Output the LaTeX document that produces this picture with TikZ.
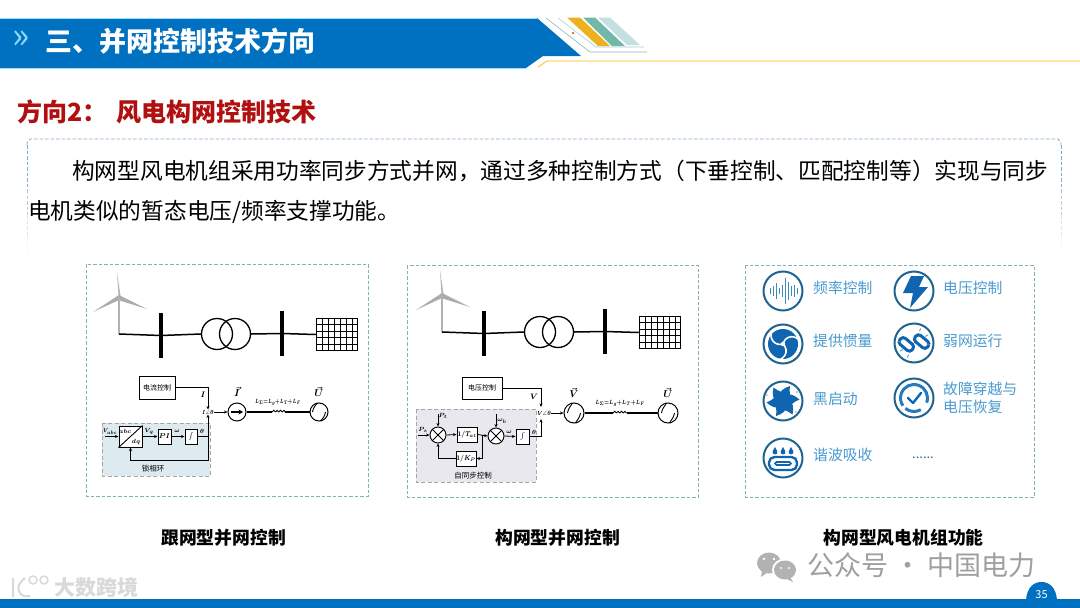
\documentclass[tikz,border=0pt]{standalone}
\usepackage{amsmath, amssymb}
\usepackage{fontspec}
\setmainfont{Noto Sans CJK SC}
\definecolor{HeadBlue}{HTML}{0070C0}
\definecolor{TitleRed}{HTML}{B01010}
\definecolor{CardTeal}{HTML}{7FB3B5}
\definecolor{BoxBlue}{HTML}{7FAFD0}
\definecolor{RingBlue}{HTML}{1F6491}
\definecolor{IconBlue}{HTML}{0F65B0}
\definecolor{LabelBlue}{HTML}{4A9AD0}
\definecolor{PllFill}{HTML}{DDEBF0}
\definecolor{SyncFill}{HTML}{E9E8EE}
\definecolor{StripeGold}{HTML}{EDB120}
\definecolor{StripeTeal}{HTML}{72B8A8}
\definecolor{StripePale}{HTML}{C6DFE0}
\usetikzlibrary{arrows.meta, positioning, calc}
\newcommand{\fsz}[1]{\fontsize{#1}{#1}\selectfont}
\tikzset{
  cardbox/.style={draw=CardTeal, line width=0.9pt, dash pattern=on 3.5pt off 2pt},
  ctrlbox/.style={draw, line width=1pt, fill=white, inner sep=0pt, font=\fsz{7}\boldmath},
  ringicon/.style={circle, draw=RingBlue, line width=2pt, minimum size=39pt, inner sep=0pt},
  iconlabel/.style={anchor=west, text=LabelBlue, font=\fsz{14.8}, align=left, inner sep=0pt},
  caption/.style={font=\fsz{17.8}\bfseries, inner sep=0pt},
  sumnode/.style={circle, draw, line width=0.9pt, fill=white, minimum size=16pt, inner sep=0pt},
  srcnode/.style={circle, draw, line width=1pt, fill=white, inner sep=0pt},
  tinylabel/.style={font=\fsz{6.5}\boldmath, inner sep=0pt},
  sig/.style={-{Stealth[length=3.5pt,width=3pt]}, line width=0.8pt},
  wire/.style={line width=1.1pt},
}
% one turbine, two bus bars, the transformer and the grid
\newcommand{\feederrow}{
  \fill[gray!60] (118.5,296) -- (117,272) -- (120.5,296) -- cycle;
  \fill[gray!65] (119,295) -- (93,312) -- (119,300) -- cycle;
  \fill[gray!65] (119,295) -- (147,309) -- (118,300) -- cycle;
  \draw[gray!60, line width=2pt] (119,298) -- (119,334);
  \coordinate (base) at (119,334);
  \node[fill, minimum width=3.6pt, minimum height=45pt, inner sep=0pt] (busa) at (161,335.5) {};
  \node[fill, minimum width=3.6pt, minimum height=45pt, inner sep=0pt] (busb) at (282,333.5) {};
  \node[circle, draw, line width=1.3pt, minimum size=31pt, inner sep=0pt] (xfa) at (217,334) {};
  \node[circle, draw, line width=1.3pt, minimum size=31pt, inner sep=0pt] (xfb) at (235,334) {};
  \node[draw, line width=1.5pt, minimum width=41pt, minimum height=32pt, inner sep=0pt] (grid) at (337,334.5) {};
  \foreach \gx in {322,328,334,340,346,352}
    \draw[line width=1pt] (\gx,318) -- (\gx,351);
  \foreach \gy in {324.5,331,337.5,344}
    \draw[line width=1pt] (316,\gy) -- (358,\gy);
  \draw[line width=1.5pt] (base) -- (busa.center) -- (xfa.west);
  \draw[line width=1.5pt] (xfb.east) -- (busb.center) -- (grid.west);
}
\newcommand{\acwave}[1]{
  \draw[line width=0.9pt] ($(#1)+(-6.5,0)$) .. controls ($(#1)+(-5,-7.5)$) and ($(#1)+(-1.5,-7.5)$) .. (#1)
    .. controls ($(#1)+(1.5,7.5)$) and ($(#1)+(5,7.5)$) .. ($(#1)+(6.5,0)$);
}
\newcommand{\coil}[1]{
  \foreach \cx in {0,3.4,6.8,10.2}
    \draw[line width=0.9pt] ($(#1)+(\cx,0)$) arc (180:360:1.7);
}

\begin{document}
\begin{tikzpicture}[x=1pt, y=-1pt, >=Stealth]
  \useasboundingbox (0,0) rectangle (1080,608);
  \fill[white] (0,0) rectangle (1080,608);

  % --- Header band ---
  \fill[HeadBlue] (0,18) -- (537,18) -- (581,56) -- (543,56) -- (526,68) -- (0,68) -- cycle;
  \draw[blue!30!cyan!40, line width=0.6pt] (0,18) -- (537,18);
  \draw[blue!30!cyan!40, line width=0.6pt] (0,68) -- (526,68);
  \fill[StripeGold] (567,17.5) -- (580,17.5) -- (610,46) -- (598,46) -- cycle;
  \fill[StripeTeal] (583,17.5) -- (595,17.5) -- (625,46) -- (612,46) -- cycle;
  \fill[StripePale] (598,17.5) -- (610,17.5) -- (640,45) -- (627,45) -- cycle;
  \draw[teal!50, line width=0.6pt] (546,18) -- (590,52) -- (647,52);
  \draw[teal!35, line width=0.6pt] (558,18) -- (596,47) -- (644,47);
  \draw[orange!55!yellow, line width=0.7pt] (538,67) -- (547,61) -- (1080,61);
  \fill[orange!70!black] (573,33) circle (1.2);
  \node[text=cyan!45, font=\fsz{36}, inner sep=0pt] (chevron) at (21,40) {»};
  \node[anchor=west, text=white, font=\fsz{27}\bfseries, inner sep=0pt] (headtitle) at (45,41) {三、并网控制技术方向};

  % --- Direction title and text box ---
  \node[anchor=west, text=TitleRed, font=\fsz{25}\bfseries, inner sep=0pt] (dirlabel) at (17,112) {方向2：};
  \node[anchor=west, text=TitleRed, font=\fsz{25}\bfseries, inner sep=0pt] (dirtitle) at (116,112) {风电构网控制技术};
  \draw[BoxBlue, line width=0.9pt, dash pattern=on 3.5pt off 2pt] (27,145) -- (27,143) -- (30,139) -- (1058,139) -- (1061,143) -- (1061,145);
  \foreach \fa/\fb/\fc in {145/190/100,190/215/60,215/235/30,235/250/12} {
    \draw[BoxBlue!\fc, line width=0.9pt, dash pattern=on 3.5pt off 2pt] (27,\fa) -- (27,\fb);
    \draw[BoxBlue!\fc, line width=0.9pt, dash pattern=on 3.5pt off 2pt] (1061,\fa) -- (1061,\fb);
  }
  \node[anchor=west, font=\fsz{22.7}, inner sep=0pt] (bodya) at (72,171) {构网型风电机组采用功率同步方式并网，通过多种控制方式（下垂控制、匹配控制等）实现与同步};
  \node[anchor=west, font=\fsz{22.7}, inner sep=0pt] (bodyb) at (28,212) {电机类似的暂态电压/频率支撑功能。};

  % --- Panel frames ---
  \draw[cardbox] (86,264) rectangle (368,496);
  \draw[cardbox] (407,265) rectangle (698,497);
  \draw[cardbox] (745,265) rectangle (1034,497);
  \node[caption] (capa) at (223.5,538) {跟网型并网控制};
  \node[caption] (capb) at (557.5,538) {构网型并网控制};
  \node[caption] (capc) at (903.5,538) {构网型风电机组功能};

  % --- Panel 1: grid following ---
  \begin{scope}[name prefix=fl-]
    \feederrow
  \end{scope}
  \fill[PllFill] (102,423) rectangle (210,476);
  \draw[gray!70, line width=0.9pt, dash pattern=on 4pt off 2.5pt] (102,423) rectangle (210,476);
  \node[ctrlbox, minimum width=36pt, minimum height=23pt] (curctrl) at (157,387.5) {电流控制};
  \node[tinylabel] (anglea) at (208,412) {\scalebox{0.85}[1]{$I\angle\theta$}};
  \node[srcnode, minimum size=18pt] (isrc) at (237,412) {};
  \node[srcnode, minimum size=18pt] (ugrida) at (319,412) {};
  \acwave{ugrida}
  \coordinate (coilain) at (272,412);
  \coordinate (coilaout) at (285,412);
  \coil{coilain}
  \draw[-{Stealth[length=4.5pt,width=5pt]}, line width=1.5pt] (231,412) -- (243,412);
  \draw[sig] (curctrl.east) -| (anglea.north);
  \draw[sig, line width=1pt] (anglea.east) -- (isrc.west);
  \draw[wire] (isrc.east) -- (coilain);
  \draw[wire] (coilaout) -- (ugrida.west);
  \node[tinylabel, font=\fsz{8}\boldmath] (ilabel) at (203,395) {$I$};
  \node[tinylabel, font=\fsz{10}\boldmath] (ivec) at (237,392) {$\vec{I}$};
  \node[tinylabel, font=\fsz{10}\boldmath] (uveca) at (319,392) {$\vec{U}$};
  \node[tinylabel] (lsuma) at (278,402) {\scalebox{0.72}[1]{$L_\Sigma{=}L_g{+}L_T{+}L_F$}};
  % phase locked loop
  \node[ctrlbox, minimum width=23pt, minimum height=21pt] (abcdq) at (130.5,436.5) {};
  \draw[line width=0.9pt] (abcdq.south west) -- (abcdq.north east);
  \node[tinylabel] (abclabel) at (125,431) {$abc$};
  \node[tinylabel] (dqlabel) at (136,442) {$dq$};
  \node[ctrlbox, minimum width=13pt, minimum height=15pt] (piblock) at (164.5,436.5) {$PI$};
  \node[ctrlbox, minimum width=12pt, minimum height=15pt] (intblock) at (191,436.5) {$\int$};
  \coordinate (vabcin) at (105,436.5);
  \coordinate (plltap) at (208,436.5);
  \coordinate (pllbot) at (208,460);
  \draw[sig] (vabcin) -- (abcdq.west);
  \draw[sig] (abcdq.east) -- (piblock.west);
  \draw[sig] (piblock.east) -- (intblock.west);
  \draw[line width=1pt] (intblock.east) -- (plltap);
  \draw[sig, line width=1pt] (plltap) -- (anglea.south);
  \draw[sig, line width=1pt] (plltap) -- (pllbot) -| (abcdq.south);
  \node[tinylabel] (vabclabel) at (110,431.5) {\scalebox{0.85}[1]{$V_{abc}$}};
  \node[tinylabel] (vqlabel) at (149,431) {$V_q$};
  \node[tinylabel] (omegaa) at (177,431) {$\omega$};
  \node[tinylabel] (thetaa) at (202,431) {$\theta$};
  \node[tinylabel, font=\fsz{7.5}] (pllname) at (153,469) {锁相环};

  % --- Panel 2: grid forming ---
  \begin{scope}[name prefix=fm-, xshift=323pt, yshift=2pt]
    \feederrow
  \end{scope}
  \fill[SyncFill] (416,409) rectangle (536,482);
  \draw[gray!70, line width=0.9pt, dash pattern=on 4pt off 2.5pt] (416,409) rectangle (536,482);
  \node[ctrlbox, minimum width=40pt, minimum height=22pt] (volctrl) at (482,388) {电压控制};
  \node[tinylabel] (angleb) at (544,413) {\scalebox{0.85}[1]{$V\angle\theta$}};
  \node[srcnode, minimum size=20pt] (vsrc) at (574,413) {};
  \node[srcnode, minimum size=20pt] (ugridb) at (668,413) {};
  \acwave{vsrc}
  \acwave{ugridb}
  \coordinate (coilbin) at (613,413);
  \coordinate (coilbout) at (627,413);
  \coil{coilbin}
  \draw[sig] (volctrl.east) -| (541,407);
  \draw[sig, line width=1pt] (angleb.east) -- (vsrc.west);
  \draw[wire] (vsrc.east) -- (coilbin);
  \draw[wire] (coilbout) -- (ugridb.west);
  \node[tinylabel, font=\fsz{8}\boldmath] (vlabel) at (534,397) {$V$};
  \node[tinylabel, font=\fsz{10}\boldmath] (vvec) at (574,393) {$\vec{V}$};
  \node[tinylabel, font=\fsz{10}\boldmath] (uvecb) at (668,393) {$\vec{U}$};
  \node[tinylabel] (lsumb) at (620,403) {\scalebox{0.78}[1]{$L_\Sigma{=}L_g{+}L_T{+}L_F$}};
  % self synchronising control
  \node[sumnode] (suma) at (438,435) {};
  \draw[line width=0.8pt] (suma.45) -- (suma.225) (suma.135) -- (suma.315);
  \node[sumnode] (sumb) at (496,436) {};
  \draw[line width=0.8pt] (sumb.45) -- (sumb.225) (sumb.135) -- (sumb.315);
  \node[ctrlbox, minimum width=20pt, minimum height=15pt] (tablock) at (467,434.5) {\scalebox{0.85}[1]{$1/T_{at}$}};
  \node[ctrlbox, minimum width=20pt, minimum height=15pt] (kpblock) at (466,458.5) {\scalebox{0.85}[1]{$1/K_P$}};
  \node[ctrlbox, minimum width=13pt, minimum height=15pt] (intsync) at (522.5,436.5) {$\int$};
  \coordinate (psin) at (418,435);
  \coordinate (ptin) at (438,414);
  \coordinate (wbin) at (496,414);
  \coordinate (synctap) at (482,434.5);
  \coordinate (syncout) at (541,436.5);
  \draw[sig] (psin) -- (suma.west);
  \draw[sig] (ptin) -- (suma.north);
  \draw[sig] (wbin) -- (sumb.north);
  \draw[sig] (suma.east) -- (tablock.west);
  \draw[sig] (tablock.east) -- (sumb.west);
  \draw[sig] (synctap) |- (kpblock.east);
  \draw[sig] (kpblock.west) -| (suma.south);
  \draw[sig] (sumb.east) -- (intsync.west);
  \draw[line width=1pt] (intsync.east) -- (syncout);
  \draw[sig, line width=1pt] (syncout) -- (541,419);
  \node[tinylabel] (pslabel) at (423,430) {$P_s$};
  \node[tinylabel] (ptlabel) at (443,416) {$P_t$};
  \node[tinylabel] (wblabel) at (502,421) {$\omega_b$};
  \node[tinylabel] (omegab) at (509,432) {$\omega$};
  \node[tinylabel] (thetab) at (534,432) {$\theta$};
  \node[tinylabel, font=\fsz{7.5}] (syncname) at (473,476) {自同步控制};

  % --- Panel 3: functions ---
  \node[ringicon] (freqicon) at (783,291) {};
  \node[ringicon] (volticon) at (914,291) {};
  \node[ringicon] (inerticon) at (783,344) {};
  \node[ringicon] (weakicon) at (914,343) {};
  \node[ringicon] (starticon) at (783,401) {};
  \node[ringicon] (faulticon) at (914,398) {};
  \node[ringicon] (harmicon) at (783,458) {};
  \node[iconlabel] (freqlabel) at (813,288) {频率控制};
  \node[iconlabel] (voltlabel) at (943,288) {电压控制};
  \node[iconlabel] (inertlabel) at (813,341) {提供惯量};
  \node[iconlabel] (weaklabel) at (943,341) {弱网运行};
  \node[iconlabel] (startlabel) at (813,399) {黑启动};
  \node[iconlabel] (faultlabel) at (943,389) {故障穿越与};
  \node[iconlabel] (faultlabelb) at (943,407) {电压恢复};
  \node[iconlabel] (harmlabel) at (813,455) {谐波吸收};
  \node[text=LabelBlue!70!black, font=\fsz{13}, inner sep=0pt] (moredots) at (923,458) {......};
  % waveform
  \foreach \wx/\wh in {-13/3,-10/5,-7/8,-4/3,-1/6,2/13,5/9,8/5,11/6,14/3}
    \draw[LabelBlue!70!RingBlue, line width=1pt] ($(freqicon)+(\wx,-\wh)$) -- ($(freqicon)+(\wx,\wh)$);
  % lightning
  \fill[IconBlue] (911,276) -- (924,276) -- (919,287) -- (928,287) -- (910,308) -- (913,293) -- (903,293) -- cycle;
  % swirl
  \fill[IconBlue] (inerticon) circle (15);
  \foreach \sa in {30,150,270}
    \draw[white, line width=1.6pt, rotate around={\sa:(inerticon)}] (783,344) .. controls (790,337) and (799,343) .. (799,350);
  \fill[white] (inerticon) circle (2.2);
  % chain
  \foreach \lx/\ly in {5/-6,-5/6}
    \draw[IconBlue, line width=3pt, rounded corners=3.5pt, rotate around={-40:($(weakicon)+(\lx,\ly)$)}]
      ($(weakicon)+(\lx,\ly)+(-8,-4)$) rectangle ($(weakicon)+(\lx,\ly)+(8,4)$);
  \foreach \da in {115,150,185,295,330,5}
    \draw[LabelBlue, line width=0.9pt] ($(weakicon)+(\da:13)$) -- ($(weakicon)+(\da:16)$);
  % pinwheel
  \foreach \pa in {0,60,...,300}
    \fill[IconBlue, rotate around={\pa:(starticon)}] (783,401) -- (779,397) .. controls (779,391) and (784,388) .. (790,386) .. controls (789,392) and (790,396) .. (792,400) -- cycle;
  \fill[orange!80] (767,395) circle (0.8);
  \fill[LabelBlue] (797,392) circle (0.8);
  \fill[orange!80] (796,412) circle (0.8);
  % check with circular arrow
  \draw[LabelBlue!40!IconBlue, line width=3pt] ($(faulticon)+(20:13.5)$) arc (20:-215:13.5);
  \draw[LabelBlue!40!IconBlue, line width=3pt] ($(faulticon)+(60:13.5)$) arc (60:130:13.5);
  \draw[IconBlue, line width=2.4pt, line cap=round, line join=round] (908,398) -- (913,403) -- (921,393);
  % drops over a slot
  \foreach \dx in {-8,0,8}
    \fill[IconBlue] ($(harmicon)+(\dx,-6)$) circle (2.4) ($(harmicon)+(\dx-2.2,-7)$) -- ($(harmicon)+(\dx,-11)$) -- ($(harmicon)+(\dx+2.2,-7)$) -- cycle;
  \draw[IconBlue, line width=2.4pt, rounded corners=5.5pt] ($(harmicon)+(-14,-1)$) rectangle ($(harmicon)+(14,12)$);
  \draw[IconBlue, line width=1.6pt, rounded corners=1.5pt] ($(harmicon)+(-8,4)$) rectangle ($(harmicon)+(8,7)$);

  % --- Watermarks ---
  \fill[gray!60] (769,563) ellipse (12 and 10.5);
  \fill[gray!60] (762,571) -- (761,577) -- (768,572) -- cycle;
  \fill[white] (785,570) ellipse (13 and 11.5);
  \fill[gray!60] (785,570) ellipse (11 and 9.5);
  \fill[gray!60] (790,577) -- (793,582) -- (785,578) -- cycle;
  \fill[white] (764,559) circle (1.4) (774,559) circle (1.4) (781,568) circle (1.2) (789,568) circle (1.2);
  \node[anchor=west, text=gray!75, font=\fsz{27}, inner sep=0pt] (wechat) at (807,565) {公众号 · 中国电力};
  \draw[gray!30, line width=2pt] (13,578) -- (13,597) (25,578) .. controls (19,583) and (17,587) .. (19,591) .. controls (21,596) and (25,597) .. (30,596);
  \draw[gray!30, line width=1.5pt] (33,580) circle (4) (44,580) circle (4);
  \node[anchor=west, text=gray!30, font=\fsz{21}\bfseries, inner sep=0pt] (stamp) at (54,587) {大数跨境};

  % --- Footer ---
  \fill[HeadBlue] (0,599) rectangle (1080,608);
  \fill[HeadBlue] (1026,600) .. controls (1027,587) and (1034,582) .. (1041.5,582) .. controls (1049,582) and (1056,587) .. (1057,600) -- cycle;
  \node[text=white, font=\fsz{11}, inner sep=0pt] (pageno) at (1041.5,595) {35};
\end{tikzpicture}
\end{document}
